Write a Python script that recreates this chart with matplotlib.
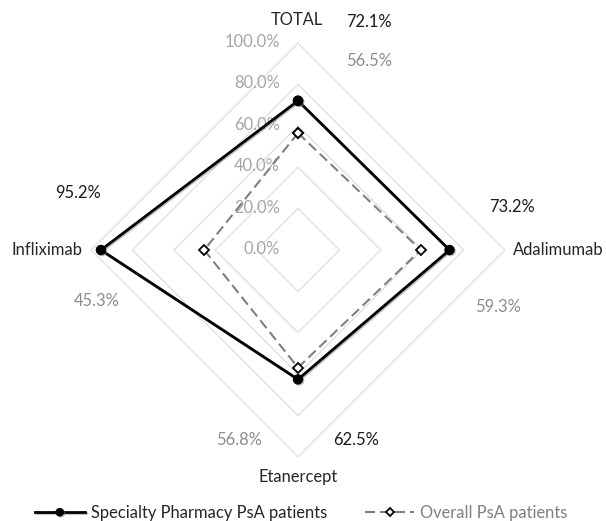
import numpy as np
import matplotlib
matplotlib.use("Agg")
import matplotlib.pyplot as plt
import matplotlib.patheffects as pe

categories = ["TOTAL", "Adalimumab", "Etanercept", "Infliximab"]
specialty = [72.1, 73.2, 62.5, 95.2]
overall = [56.5, 59.3, 56.8, 45.3]
ring_values = [0, 20, 40, 60, 80, 100]
ring_labels = ["0.0%", "20.0%", "40.0%", "60.0%", "80.0%", "100.0%"]
series_names = ["Specialty Pharmacy PsA patients", "Overall PsA patients"]

plt.rcParams["font.family"] = ["Lato", "DejaVu Sans"]
FS = 11.9

W, H = 606, 521
fig = plt.figure(figsize=(W / 100, H / 100), dpi=100)
cx, cy, R = 298, 250, 207
ax = fig.add_axes([(cx - R) / W, (H - cy - R) / H, 2 * R / W, 2 * R / H],
                  projection="polar")
ax.set_theta_zero_location("N")
ax.set_theta_direction(-1)
ax.set_ylim(0, 100)
ax.set_axis_off()

theta = np.linspace(0, 2 * np.pi, len(categories), endpoint=False)
theta_c = np.append(theta, theta[0])

# polygon grid
for r in ring_values[1:]:
    ax.plot(theta_c, [r] * len(theta_c), color="#dcdcdc", lw=0.8,
            clip_on=False, zorder=1)

# radial labels along the top axis
for r, lab in zip(ring_values, ring_labels):
    ax.annotate(lab, xy=(0, r), xytext=(-18, 1), textcoords="offset pixels",
                ha="right", va="center", color="#a6a6a6", fontsize=FS,
                zorder=2)

sp = np.append(specialty, specialty[0])
ov = np.append(overall, overall[0])
l1, = ax.plot(theta_c, sp, color="black", lw=2.0, marker="o", ms=6.5,
              mfc="black", mec="black", clip_on=False, zorder=4,
              path_effects=[pe.SimpleLineShadow(offset=(0.8, -0.8),
                                                shadow_color="#808080",
                                                alpha=0.5),
                            pe.Normal()])
l2, = ax.plot(theta_c, ov, color="#7f7f7f", lw=1.5, dashes=(4.8, 2.4),
              marker="D", ms=5, mfc="white", mec="black", mew=1.3,
              clip_on=False, zorder=3)

# data labels (offsets in pixels from the point)
sp_off = [(71, 79), (62, 43), (58, -61), (-23, 57)]
ov_off = [(71, 72), (77, -57), (-59, -72), (-107, -51)]
for t, v, o in zip(theta, specialty, sp_off):
    ax.annotate(f"{v:.1f}%", xy=(t, v), xytext=o, textcoords="offset pixels",
                ha="center", va="center", color="#1a1a1a", fontsize=FS,
                zorder=5)
for t, v, o in zip(theta, overall, ov_off):
    ax.annotate(f"{v:.1f}%", xy=(t, v), xytext=o, textcoords="offset pixels",
                ha="center", va="center", color="#8c8c8c", fontsize=FS,
                zorder=5)

# category labels
cat_off = [((-1, 23), "center"), ((8, 0), "left"), ((0, -20), "center"),
           ((-9, 0), "right")]
for t, lab, (o, ha) in zip(theta, categories, cat_off):
    ax.annotate(lab, xy=(t, 100), xytext=o, textcoords="offset pixels",
                ha=ha, va="center", color="#262626", fontsize=FS, zorder=5)

leg = fig.legend([l1, l2], series_names, loc="center left",
                 bbox_to_anchor=(35 / W, 1 - 513 / H), ncol=2, frameon=False,
                 fontsize=FS, borderpad=0, borderaxespad=0, markerscale=0.8,
                 handlelength=3.0, handletextpad=0.36, columnspacing=2.3)
for txt, c in zip(leg.get_texts(), ["#262626", "#808080"]):
    txt.set_color(c)

fig.savefig("out.png", dpi=100)
